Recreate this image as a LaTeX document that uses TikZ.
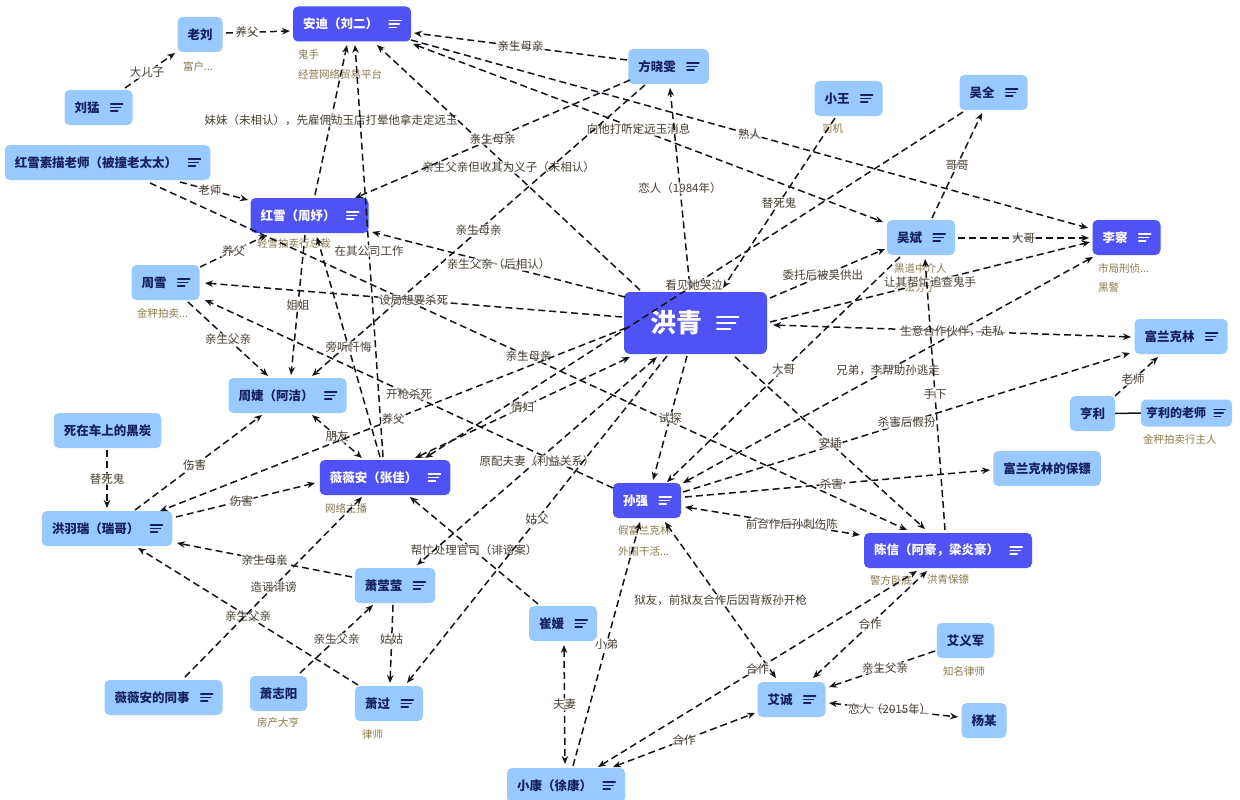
\documentclass[tikz,border=0pt]{standalone}
\usepackage{fontspec}
\setmainfont{Noto Sans CJK SC}
\usetikzlibrary{arrows.meta,calc}
\definecolor{dkfill}{RGB}{79,82,245}
\definecolor{ltfill}{RGB}{153,202,255}
\definecolor{lttext}{RGB}{22,32,96}
\definecolor{subc}{RGB}{138,122,76}
\definecolor{labc}{RGB}{72,64,50}
\definecolor{edgec}{RGB}{20,20,28}
\newcommand{\ic}[2]{\draw[#2,line width=1.5pt,line cap=round] ([xshift=-22pt,yshift=3.5pt]#1.east) -- ++(12,0) ([xshift=-22pt]#1.east) -- ++(10,0) ([xshift=-22pt,yshift=-3.5pt]#1.east) -- ++(7,0);}
\begin{document}
\begin{tikzpicture}[x=1pt,y=-1pt,
  base/.style={rectangle, rounded corners=5pt, minimum height=35pt, inner xsep=10pt, inner ysep=0pt, font=\fontsize{12.5}{14}\selectfont\bfseries},
  dk/.style={base, fill=dkfill, text=white},
  lt/.style={base, fill=ltfill, text=lttext},
  sub/.style={font=\fontsize{10.5}{12}\selectfont, text=subc, anchor=west, inner sep=0pt},
  rel/.style={draw=edgec, line width=1.5pt, dash pattern=on 7pt off 4pt, -{Stealth[length=8pt,width=6.5pt]}},
  relb/.style={rel, {Stealth[length=8pt,width=6.5pt]}-{Stealth[length=8pt,width=6.5pt]}},
  lab/.style={font=\fontsize{11.5}{13}\selectfont, text=labc, fill=white, fill opacity=0.6, text opacity=1, inner sep=1pt}]
\fill[white] (0,0) rectangle (1240,800);
\useasboundingbox (0,0) rectangle (1240,800);
% nodes
\node[lt] (ll) at (200,34.5) {老刘};
\node[dk] (ad) at (352,24) {安迪（刘二）\kern23pt};
\node[lt] (lm) at (98.5,107.5) {刘猛\kern23pt};
\node[lt] (sm) at (107.5,162.5) {红雪素描老师（被撞老太太）\kern23pt};
\node[dk] (hx) at (309.5,215.5) {红雪（周妤）\kern23pt};
\node[lt] (zx) at (165.5,282.5) {周雪\kern23pt};
\node[lt] (zj) at (287.5,395.5) {周婕（阿洁）\kern23pt};
\node[lt] (ht) at (107.5,430.5) {死在车上的黑炭};
\node[lt] (hy) at (107,528.5) {洪羽瑞（瑞哥）\kern23pt};
\node[dk] (vv) at (385,477.5) {薇薇安（张佳）\kern23pt};
\node[lt] (xy) at (395,585.5) {萧莹莹\kern23pt};
\node[lt] (ts) at (163.5,697.5) {薇薇安的同事\kern23pt};
\node[lt] (xz) at (278.5,693.5) {萧志阳};
\node[lt] (xg) at (389,703.5) {萧过\kern23pt};
\node[lt] (cy) at (563,623.5) {崔媛\kern23pt};
\node[lt] (xk) at (566,785.5) {小康（徐康）\kern23pt};
\node[dk] (sq) at (647,500.5) {孙强\kern23pt};
\node[dk, font=\fontsize{26}{30}\selectfont\bfseries, minimum width=143pt, minimum height=62pt, inner xsep=0pt, rounded corners=6pt] (hq) at (695.5,323) {洪青\kern39pt};
\node[lt] (fx) at (668.5,66.5) {方晓雯\kern23pt};
\node[lt] (xw) at (848.5,98.5) {小王\kern23pt};
\node[lt] (wq) at (993.5,92.5) {吴全\kern23pt};
\node[lt] (wb) at (921,237.5) {吴斌\kern23pt};
\node[dk] (lc) at (1126.5,237.5) {李察\kern23pt};
\node[lt] (fl) at (1181,336.5) {富兰克林\kern23pt};
\node[lt] (hl) at (1092.5,413.5) {亨利};
\node[lt, minimum height=27pt, inner xsep=5pt, font=\fontsize{12}{14}\selectfont\bfseries] (hs) at (1186.5,413) {亨利的老师\kern21pt};
\node[lt] (bb) at (1047,468.5) {富兰克林的保镖};
\node[dk] (cx) at (948,550.5) {陈信（阿豪，梁炎豪）\kern23pt};
\node[lt] (ay) at (965.5,640.5) {艾义军};
\node[lt] (ac) at (791.5,699.5) {艾诚\kern23pt};
\node[lt] (ym) at (984,720.5) {杨某};
% icons
\ic{ad}{white}\ic{hx}{white}\ic{vv}{white}\ic{sq}{white}\ic{lc}{white}\ic{cx}{white}
\ic{lm}{lttext}\ic{sm}{lttext}\ic{zx}{lttext}\ic{zj}{lttext}\ic{hy}{lttext}\ic{xy}{lttext}
\ic{ts}{lttext}\ic{xg}{lttext}\ic{cy}{lttext}\ic{xk}{lttext}\ic{fx}{lttext}\ic{xw}{lttext}
\ic{wq}{lttext}\ic{wb}{lttext}\ic{fl}{lttext}\ic{ac}{lttext}
\draw[lttext,line width=1.5pt,line cap=round] ([xshift=-18pt,yshift=3.5pt]hs.east) -- ++(11,0) ([xshift=-18pt]hs.east) -- ++(9,0) ([xshift=-18pt,yshift=-3.5pt]hs.east) -- ++(6.5,0);
\draw[white,line width=2.6pt,line cap=round] ([xshift=-50pt,yshift=6pt]hq.east) -- ++(21,0) ([xshift=-50pt]hq.east) -- ++(18,0) ([xshift=-50pt,yshift=-6pt]hq.east) -- ++(13,0);
% sub labels
\node[sub] (s1) at (183,66) {富户...};
\node[sub] (s2) at (298,54) {鬼手};
\node[sub] (s3) at (298,74) {经营网络贸易平台};
\node[sub] (s4) at (257,244) {轻雪拍卖行总裁};
\node[sub] (s5) at (137,313) {金秤拍卖...};
\node[sub] (s6) at (325,508) {网络主播};
\node[sub] (s7) at (257,723) {房产大亨};
\node[sub] (s8) at (362,734) {律师};
\node[sub] (s9) at (618,530) {假富兰克林};
\node[sub] (s10) at (618,551) {外围干活...};
\node[sub] (s11) at (822,129) {司机};
\node[sub] (s12) at (894,268) {黑道中介人};
\node[sub] (s13) at (894,288) {不法分子};
\node[sub] (s14) at (1098,268) {市局刑侦...};
\node[sub] (s15) at (1098,288) {黑警};
\node[sub] (s16) at (1143,439) {金秤拍卖行主人};
\node[sub] (s17) at (870,580) {警方卧底};
\node[sub] (s18) at (927,580) {洪青保镖};
\node[sub] (s19) at (943,671) {知名律师};
% edges
\draw[rel] ([shift={(26,-1.5)}]ll.center) -- node[lab,pos=0.33]{养父} ([shift={(-62,7)}]ad.center);
\draw[rel] ([shift={(26.5,-19.5)}]lm.center) -- node[lab,pos=0.44]{大儿子} ([shift={(-25,18.5)}]ll.center);
\draw[rel] ([shift={(72.5,19.5)}]sm.center) -- node[lab,pos=0.44]{老师} ([shift={(-61.5,-15.5)}]hx.center);
\draw[rel] ([shift={(42.5,20.5)}]sm.center) -- node[lab]{亲生母亲} ([shift={(-41,-20.5)}]cx.center);
\draw[rel] ([shift={(5.5,-20.5)}]hx.center) -- node[lab]{妹妹（未相认），先雇佣劫玉店打晕他拿走定远玉} ([shift={(-5,21)}]ad.center);
\draw[rel] ([shift={(-2,-20.5)}]vv.center) -- node[lab]{在其公司工作} ([shift={(3,21)}]ad.center);
\draw[rel] ([shift={(-41.5,-6.5)}]fx.center) -- node[lab]{亲生母亲} ([shift={(62,9)}]ad.center);
\draw[rel] ([shift={(-55.5,-33)}]hq.center) -- node[lab]{亲生父亲但收其为义子（未相认）} ([shift={(25,21)}]ad.center);
\draw[rel] ([shift={(59,16)}]ad.center) -- node[lab]{熟人} ([shift={(-38.5,-9.5)}]lc.center);
\draw[relb] ([shift={(61,20)}]ad.center) -- node[lab,pos=0.48]{向他打听定远玉消息} ([shift={(-38,-15.5)}]wb.center);
\draw[rel] ([shift={(-38.5,13.5)}]fx.center) -- node[lab]{亲生母亲} ([shift={(45.5,-17.5)}]hx.center);
\draw[rel] ([shift={(-23.5,18.5)}]fx.center) -- node[lab]{亲生母亲} ([shift={(24.5,-19.5)}]zj.center);
\draw[relb] ([shift={(-5.5,-35)}]hq.center) -- node[lab]{恋人（1984年）} ([shift={(1.5,21.5)}]fx.center);
\draw[rel] ([shift={(-4.5,19.5)}]hx.center) -- node[lab]{姐姐} ([shift={(3.5,-20.5)}]zj.center);
\draw[rel] ([shift={(-5,-20.5)}]vv.center) -- node[lab]{旁听忏悔} ([shift={(7.5,21.5)}]hx.center);
\draw[rel] ([shift={(34.5,-15.5)}]zx.center) -- node[lab]{养父} ([shift={(-42.5,19.5)}]hx.center);
\draw[rel] ([shift={(-70.5,-26)}]hq.center) -- node[lab]{亲生父亲（后相认）} ([shift={(62.5,16.5)}]hx.center);
\draw[rel] ([shift={(-73.5,-6)}]hq.center) -- node[lab]{设局想要杀死} ([shift={(39.5,0.5)}]zx.center);
\draw[rel] ([shift={(-34,-12.5)}]sq.center) -- node[lab]{开枪杀死} ([shift={(39.5,17.5)}]zx.center);
\draw[rel] ([shift={(22.5,19.5)}]zx.center) -- node[lab]{亲生父亲} ([shift={(-19.5,-19.5)}]zj.center);
\draw[rel] ([shift={(28,-18.5)}]hy.center) -- node[lab,pos=0.47]{伤害} ([shift={(-25.5,19.5)}]zj.center);
\draw[relb] ([shift={(24.5,19.5)}]zj.center) -- node[lab]{朋友} ([shift={(-23,-19.5)}]vv.center);
\draw[rel] ([shift={(-0.5,19.5)}]ht.center) -- node[lab]{替死鬼} ([shift={(0,-20.5)}]hy.center);
\draw[rel] ([shift={(69,-11.5)}]hy.center) -- node[lab,pos=0.47]{伤害} ([shift={(-70,5.5)}]vv.center);
\draw[rel] ([shift={(-69.5,5)}]hq.center) -- node[lab]{养父} ([shift={(53,-17.5)}]hy.center);
\draw[rel] ([shift={(-43,-8.5)}]xy.center) -- node[lab]{亲生母亲} ([shift={(70,14.5)}]hy.center);
\draw[rel] ([shift={(-31,-18.5)}]xg.center) -- node[lab]{亲生父亲} ([shift={(31,19.5)}]hy.center);
\draw[rel] ([shift={(21.5,-20.5)}]ts.center) -- node[lab]{造谣诽谤} ([shift={(-23,19.5)}]vv.center);
\draw[rel] ([shift={(21.5,-20.5)}]xz.center) -- node[lab]{亲生父亲} ([shift={(-22,19.5)}]xy.center);
\draw[rel] ([shift={(-2,19.5)}]xy.center) -- node[lab,pos=0.44]{姑姑} ([shift={(1,-20.5)}]xg.center);
\draw[rel] ([shift={(-25,-19.5)}]cy.center) -- node[lab]{帮忙处理官司（诽谤案）} ([shift={(25,19.5)}]vv.center);
\draw[relb] ([shift={(-38.5,34)}]hq.center) -- node[lab]{原配夫妻（利益关系）} ([shift={(22,-20.5)}]xy.center);
\draw[rel] ([shift={(-28.5,33)}]hq.center) -- node[lab]{姑父} ([shift={(18,-20.5)}]xg.center);
\draw[relb] ([shift={(-65.5,34)}]hq.center) -- node[lab]{情妇} ([shift={(30,-19.5)}]vv.center);
\draw[rel] ([shift={(-30.5,19.5)}]wq.center) -- node[lab]{看见她哭泣} ([shift={(40,-19.5)}]vv.center);
\draw[rel] ([shift={(-13.5,19.5)}]xw.center) -- node[lab]{替死鬼} ([shift={(27.5,-35)}]hq.center);
\draw[rel] ([shift={(-8.5,33)}]hq.center) -- node[lab]{试探} ([shift={(6,-20.5)}]sq.center);
\draw[rel] ([shift={(7,-19.5)}]xk.center) -- node[lab]{小弟} ([shift={(-7,21.5)}]sq.center);
\draw[relb] ([shift={(1,21.5)}]cy.center) -- node[lab]{夫妻} ([shift={(-1,-21.5)}]xk.center);
\draw[relb] ([shift={(18,21.5)}]sq.center) -- node[lab]{狱友，前狱友合作后因背叛孙开枪} ([shift={(-15.5,-21.5)}]ac.center);
\draw[relb] ([shift={(21.5,-21.5)}]ac.center) -- node[lab]{合作} ([shift={(-21,20.5)}]cx.center);
\draw[relb] ([shift={(32,-18.5)}]xk.center) -- node[lab]{合作} ([shift={(-31,20.5)}]cx.center);
\draw[relb] ([shift={(47,-18.5)}]xk.center) -- node[lab]{合作} ([shift={(-36.5,13.5)}]ac.center);
\draw[rel] ([shift={(-30.5,10.5)}]ay.center) -- node[lab,pos=0.47]{亲生父亲} ([shift={(37.5,-12.5)}]ac.center);
\draw[relb] ([shift={(37.5,3.5)}]ac.center) -- node[lab,pos=0.47]{恋人（2015年）} ([shift={(-26,-3.5)}]ym.center);
\draw[relb] ([shift={(38,6.5)}]sq.center) -- node[lab,pos=0.61]{前合作后孙刺伤陈} ([shift={(-88,-15.5)}]cx.center);
\draw[rel] ([shift={(38,-3.5)}]sq.center) -- node[lab,pos=0.48]{杀害} ([shift={(-57,1.5)}]bb.center);
\draw[rel] ([shift={(36,-8.5)}]sq.center) -- node[lab]{杀害后假扮} ([shift={(-51,16.5)}]fl.center);
\draw[relb] ([shift={(-33.5,19.5)}]lc.center) -- node[lab]{兄弟，李帮助孙逃走} ([shift={(36,-17.5)}]sq.center);
\draw[rel] ([shift={(-21,19.5)}]wb.center) -- node[lab]{大哥} ([shift={(20,-18.5)}]sq.center);
\draw[rel] ([shift={(37,0.5)}]wb.center) -- node[lab]{大哥} ([shift={(-37.5,0.5)}]lc.center);
\draw[rel] ([shift={(11,-19.5)}]wb.center) -- node[lab]{哥哥} ([shift={(-11.5,20.5)}]wq.center);
\draw[rel] ([shift={(74.5,-25)}]hq.center) -- node[lab,pos=0.46]{委托后被吴供出} ([shift={(-36,11.5)}]wb.center);
\draw[rel] ([shift={(74.5,-1)}]hq.center) -- node[lab]{让其帮忙追查鬼手} ([shift={(-36.5,4.5)}]lc.center);
\draw[relb] ([shift={(-50,0.5)}]fl.center) -- node[lab]{生意合作伙伴，走私} ([shift={(77.5,2)}]hq.center);
\draw[rel] ([shift={(22.5,-17.5)}]hl.center) -- node[lab,pos=0.42]{老师} ([shift={(-23,20.5)}]fl.center);
\draw[edgec,line width=1.5pt] (hl.east) -- (hs.west);
\draw[rel] ([shift={(-3,-20.5)}]cx.center) -- node[lab]{手下} ([shift={(4,21.5)}]wb.center);
\draw[rel] ([shift={(39.5,34)}]hq.center) -- node[lab]{安插} ([shift={(-23,-21.5)}]cx.center);
\end{tikzpicture}
\end{document}
